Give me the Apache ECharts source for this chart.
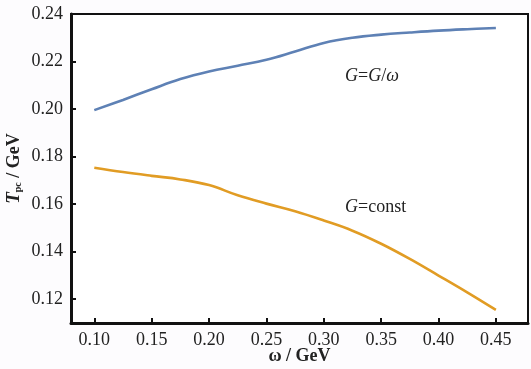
<!DOCTYPE html>
<html>
<head>
<meta charset="utf-8">
<script src="https://cdn.jsdelivr.net/npm/echarts@6/dist/echarts.min.js"></script>
<style>
  html, body { margin: 0; padding: 0; background: #fdfcfe; }
  #chart { width: 531px; height: 369px; }
</style>
</head>
<body>
<div id="chart"></div>
<script>
// ω (GeV) sample points along both curves
const omega = [0.10, 0.125, 0.15, 0.175, 0.20, 0.225, 0.25, 0.275, 0.30, 0.325, 0.35, 0.375, 0.40, 0.425, 0.45];
// pseudo-critical temperature T_pc (GeV) for G = G/ω
const tpcScaled = [0.1995, 0.2038, 0.2083, 0.2126, 0.2158, 0.2182, 0.2207, 0.2242, 0.2278, 0.2300, 0.2313, 0.2322, 0.2330, 0.2336, 0.2341];
// pseudo-critical temperature T_pc (GeV) for G = const
const tpcConst = [0.1752, 0.1734, 0.1718, 0.1703, 0.1679, 0.1636, 0.1601, 0.1569, 0.1530, 0.1487, 0.1432, 0.1368, 0.1298, 0.1227, 0.1153];
// tick positions
const xTicks = [0.10, 0.15, 0.20, 0.25, 0.30, 0.35, 0.40, 0.45];
const yTicks = [0.12, 0.14, 0.16, 0.18, 0.20, 0.22, 0.24];

const FONT = '"Liberation Serif", "Times New Roman", serif';
const chart = echarts.init(document.getElementById('chart'));

const pair = (xs, ys) => xs.map((x, i) => [x, ys[i]]);

chart.setOption({
  animation: false,
  backgroundColor: '#fdfcfe',
  grid: {
    left: 71, top: 14, right: 3, bottom: 46,
    outerBoundsMode: 'none', containLabel: false,
    show: true, backgroundColor: '#ffffff',
    borderColor: '#111', borderWidth: 2
  },
  xAxis: {
    type: 'value', min: 0.0797, max: 0.478,
    axisLine: { onZero: false, lineStyle: { color: '#111', width: 3 } },
    axisTick: { inside: true, length: 5, lineStyle: { color: '#111', width: 2 }, customValues: xTicks },
    axisLabel: {
      customValues: xTicks, margin: 8,
      fontFamily: FONT, fontSize: 18, color: '#222',
      formatter: v => v.toFixed(2)
    },
    splitLine: { show: false },
    name: 'ω / GeV', nameLocation: 'middle', nameGap: 24, nameMoveOverlap: false,
    nameTextStyle: { fontFamily: FONT, fontSize: 18, fontWeight: 'bold', color: '#222' }
  },
  yAxis: {
    type: 'value', min: 0.1098, max: 0.24,
    axisLine: { onZero: false, lineStyle: { color: '#111', width: 3 } },
    axisTick: { inside: true, length: 5, lineStyle: { color: '#111', width: 2 }, customValues: yTicks },
    axisLabel: {
      customValues: yTicks, margin: 8,
      fontFamily: FONT, fontSize: 18, color: '#222',
      formatter: v => v.toFixed(2)
    },
    splitLine: { show: false },
    name: '{t|T}{s|pc}{n| / GeV}', nameLocation: 'middle', nameGap: 47, nameMoveOverlap: false,
    nameTextStyle: {
      rich: {
        t: { fontFamily: FONT, fontSize: 19, fontWeight: 'bold', fontStyle: 'italic', color: '#222' },
        s: { fontFamily: FONT, fontSize: 10, fontWeight: 'bold', color: '#222', padding: [8, 0, 0, 0] },
        n: { fontFamily: FONT, fontSize: 18, fontWeight: 'bold', color: '#222' }
      }
    }
  },
  series: [
    {
      type: 'line', data: pair(omega, tpcScaled), smooth: 0.4,
      showSymbol: false, lineStyle: { color: '#5e81b5', width: 2.6 }
    },
    {
      type: 'line', data: pair(omega, tpcConst), smooth: 0.4,
      showSymbol: false, lineStyle: { color: '#e19c24', width: 2.6 }
    }
  ],
  graphic: [
    {
      type: 'text', left: 345, top: 67,
      style: {
        text: '{i|G}{n|=}{i|G}{n|/}{i|ω}',
        rich: {
          i: { fontFamily: FONT, fontSize: 18, fontStyle: 'italic', fill: '#222' },
          n: { fontFamily: FONT, fontSize: 18, fill: '#222' }
        }
      }
    },
    {
      type: 'text', left: 345, top: 198,
      style: {
        text: '{i|G}{n|=const}',
        rich: {
          i: { fontFamily: FONT, fontSize: 18, fontStyle: 'italic', fill: '#222' },
          n: { fontFamily: FONT, fontSize: 18, fill: '#222' }
        }
      }
    }
  ]
});
</script>
</body>
</html>
